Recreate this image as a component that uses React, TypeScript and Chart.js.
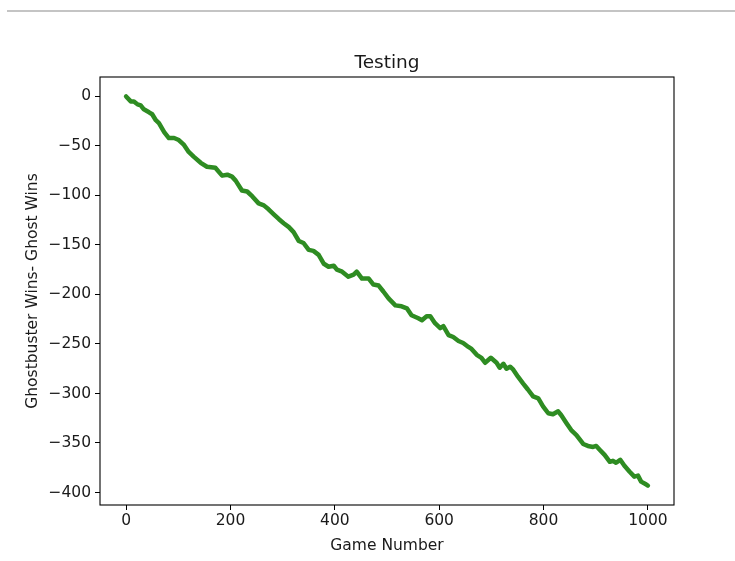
import React, { useEffect, useRef } from "react";
import { Chart, registerables } from "chart.js";

Chart.register(...registerables);

// Game number (x) at the points
const games = [
  0, 9, 15, 22, 28, 34, 44, 50, 57, 63, 73, 82, 92,
  101, 111, 120, 130, 143, 155, 171, 184, 194,
  203, 210, 222, 232, 242, 254, 264, 273, 283, 293,
  302, 312, 321, 331, 340, 350, 359, 369, 379, 388, 398,
  404, 414, 426, 436, 442, 452, 465, 474, 484, 493,
  503, 516, 528, 538, 547, 560, 567, 576, 583, 592,
  602, 608, 618, 627, 637, 646, 656, 662, 672, 681, 688, 699,
  710, 716, 723, 729, 736, 742, 751, 761, 770, 780, 790, 799,
  809, 818, 828, 834, 844, 853, 863, 876, 885, 895,
  901, 908, 917, 927, 933, 939, 947, 955, 965, 974, 981, 987, 997,
  1000,
];

// Ghostbuster wins minus ghost wins
const winDiff = [
  0, -5, -5, -8, -9, -13, -16, -18, -24, -27, -36, -42, -42,
  -44, -49, -56, -61, -67, -71, -72, -80, -79,
  -81, -85, -95, -96, -101, -108, -110, -114, -119, -124,
  -128, -132, -137, -146, -148, -155, -156, -160, -169, -172, -171,
  -175, -177, -182, -180, -177, -184, -184, -190, -191, -197,
  -204, -211, -212, -214, -221, -224, -226, -222, -222, -229,
  -234, -232, -241, -243, -247, -249, -253, -255, -261, -264, -269, -264,
  -269, -274, -270, -275, -273, -276, -283, -290, -296, -303, -305, -313,
  -320, -321, -318, -322, -330, -337, -342, -351, -353, -354,
  -353, -357, -362, -369, -368, -370, -367, -373, -379, -384, -383, -389, -392,
  -393,
];

const xTicks = [0, 200, 400, 600, 800, 1000];
const yTicks = [0, -50, -100, -150, -200, -250, -300, -350, -400];
const xRange = [-50, 1050];
const yRange = [-412.65, 19.65];

const titleText = "Testing";
const xLabel = "Game Number";
const yLabel = "Ghostbuster Wins- Ghost Wins";

const FONT = "'DejaVu Sans', sans-serif";
const TEXT = "#1a1a1a";

const boxPlugin = {
  id: "axesBox",
  afterDraw(chart: any) {
    const { ctx, chartArea } = chart;
    const { left, top, right, bottom } = chartArea;
    ctx.save();
    ctx.strokeStyle = "#000";
    ctx.lineWidth = 1.1;
    ctx.strokeRect(left, top, right - left, bottom - top);
    // title centred over the axes, like matplotlib
    ctx.fillStyle = TEXT;
    ctx.font = `18.5px ${FONT}`;
    ctx.textAlign = "center";
    ctx.textBaseline = "alphabetic";
    ctx.fillText(titleText, (left + right) / 2, top - 9);
    ctx.restore();
  },
};

const fmt = (v: number) => (v < 0 ? "\u2212" + Math.abs(v) : String(v));

export default function App() {
  const ref = useRef<HTMLCanvasElement | null>(null);

  useEffect(() => {
    if (!ref.current) return;
    const chart = new Chart(ref.current, {
      type: "line",
      data: {
        datasets: [
          {
            data: games.map((g, i) => ({ x: g, y: winDiff[i] })),
            borderColor: "rgb(46,140,34)",
            borderWidth: 4.5,
            pointRadius: 0,
            tension: 0,
            fill: false,
            borderJoinStyle: "round",
            borderCapStyle: "round",
          },
        ],
      },
      options: {
        responsive: false,
        animation: false,
        layout: { padding: { left: 0, right: 61, top: 77, bottom: 0 } },
        plugins: {
          legend: { display: false },
          tooltip: { enabled: false },
          title: { display: false },
        },
        scales: {
          x: {
            type: "linear",
            min: xRange[0],
            max: xRange[1],
            afterBuildTicks: (s: any) => {
              s.ticks = xTicks.map((v) => ({ value: v }));
            },
            afterFit: (s: any) => {
              s.height = 56;
            },
            border: { display: false },
            grid: {
              display: true,
              drawOnChartArea: false,
              drawTicks: true,
              tickLength: 5,
              tickColor: "#000",
              tickWidth: 1,
            },
            ticks: {
              color: TEXT,
              font: { family: FONT, size: 15.5 },
              padding: 2,
              maxRotation: 0,
              autoSkip: false,
              callback: (v: any) => fmt(Number(v)),
            },
            title: {
              display: true,
              text: xLabel,
              color: TEXT,
              font: { family: FONT, size: 15.5 },
              padding: { top: 0, bottom: 6 },
            },
          },
          y: {
            type: "linear",
            min: yRange[0],
            max: yRange[1],
            afterBuildTicks: (s: any) => {
              s.ticks = yTicks.map((v) => ({ value: v }));
            },
            afterFit: (s: any) => {
              s.width = 100;
            },
            border: { display: false },
            grid: {
              display: true,
              drawOnChartArea: false,
              drawTicks: true,
              tickLength: 5,
              tickColor: "#000",
              tickWidth: 1,
            },
            ticks: {
              color: TEXT,
              font: { family: FONT, size: 15.5 },
              padding: 4,
              autoSkip: false,
              callback: (v: any) => fmt(Number(v)),
            },
            title: {
              display: true,
              text: yLabel,
              color: TEXT,
              font: { family: FONT, size: 15.5 },
              padding: { top: 24, bottom: 0 },
            },
          },
        },
      },
      plugins: [boxPlugin],
    });
    return () => chart.destroy();
  }, []);

  return (
    <div style={{ position: "fixed", left: 0, top: 0, width: 735, height: 561, background: "#fff" }}>
      <div
        style={{
          position: "absolute",
          left: 7,
          top: 10,
          width: 728,
          height: 0,
          borderTop: "2px solid #c4c4c4",
        }}
      />
      <canvas ref={ref} width={735} height={561} style={{ display: "block" }} />
    </div>
  );
}
